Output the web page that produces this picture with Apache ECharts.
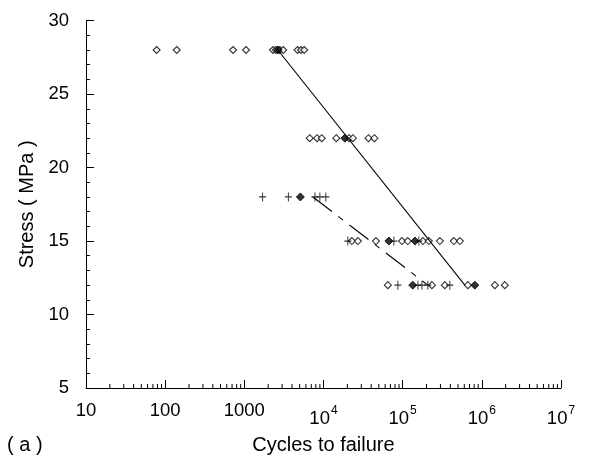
<!DOCTYPE html>
<html>
<head>
<meta charset="utf-8">
<script src="https://cdn.jsdelivr.net/npm/echarts@6/dist/echarts.min.js"></script>
<style>html,body{margin:0;padding:0;background:#fff;}#c{width:590px;height:465px;}</style>
</head>
<body>
<div id="c"></div>
<script>
// Open diamonds: [cycles, stress]
const openDiamonds = [
  [78,28],[140,28],[720,28],[1050,28],[2300,28],[2500,28],[2800,28],[3100,28],[4700,28],[5200,28],[5700,28],
  [6700,22],[8300,22],[9500,22],[14500,22],[21000,22],[23500,22],[37000,22],[44000,22],
  [22800,15],[27200,15],[46000,15],[98000,15],[116000,15],[180000,15],[214000,15],[295000,15],[443000,15],[528000,15],
  [65000,12],[234000,12],[341000,12],[666000,12],[1460000,12],[1950000,12]
];
// Plus markers: [cycles, stress]
const plusMarks = [
  [1700,18],[3600,18],[7800,18],[9000,18],[10700,18],
  [20300,15],[77400,15],[160000,15],
  [87000,12],[156000,12],[175000,12],[208000,12],[394000,12]
];
// Filled (mean) markers
const meanMarks = [[2650,28],[18600,22],[143000,15],[816000,12],[5100,18],[67000,15],[134000,12]];
// Fitted lines
const solidFit = [[2650,28],[610000,12]];
const dashedFit = [[7350,18],[208000,12]];
// Axis ticks
const decades = [10,100,1000,1e4,1e5,1e6];
const minorMultipliers = [2,3,4,5,6,7,8,9];
const minorTickValues = [];
decades.forEach(d => minorMultipliers.forEach(m => minorTickValues.push([d*m, 5])));

const FONT = "'Liberation Sans', Arial, sans-serif";
const chart = echarts.init(document.getElementById('c'), null, {renderer:'canvas'});
chart.setOption({
  animation:false,
  backgroundColor:'#fff',
  grid:{left:86, right:29, top:20.6, bottom:77},
  xAxis:{
    type:'log', logBase:10, min:10, max:1e7, interval:1,
    name:'Cycles to failure', nameLocation:'middle', nameGap:47,
    nameTextStyle:{fontFamily:FONT, fontSize:20, color:'#000'},
    axisLine:{show:true, lineStyle:{color:'#000', width:1}},
    axisTick:{show:true, inside:true, length:8, lineStyle:{color:'#000', width:1}},
    splitLine:{show:false},
    axisLabel:{
      margin:13, color:'#000', fontFamily:FONT, fontSize:18.5,
      formatter:function(v){
        const e = Math.round(Math.log10(v));
        if (e <= 3) return String(Math.round(v));
        return '{b|10}{s|' + e + '}';
      },
      rich:{
        b:{fontFamily:FONT, fontSize:18.5, color:'#000', padding:[8,0,0,0]},
        s:{fontFamily:FONT, fontSize:12, color:'#000', padding:[0,0,7,1]}
      }
    }
  },
  yAxis:{
    type:'value', min:5, max:30, interval:5,
    name:'Stress ( MPa )', nameLocation:'middle', nameGap:48,
    nameTextStyle:{fontFamily:FONT, fontSize:20, color:'#000'},
    axisLine:{show:true, lineStyle:{color:'#000', width:1}},
    axisTick:{show:true, inside:true, length:8, lineStyle:{color:'#000', width:1}},
    minorTick:{show:true, splitNumber:5, length:4, lineStyle:{color:'#000', width:1}},
    splitLine:{show:false},
    axisLabel:{margin:17, color:'#000', fontFamily:FONT, fontSize:18.5}
  },
  graphic:[{type:'text', left:7, top:435, style:{text:'( a )', font:'20px ' + FONT, fill:'#000'}}],
  series:[
    {type:'custom', silent:true, clip:false, data:minorTickValues, encode:{x:0,y:1},
     renderItem:function(params, api){
       const p = api.coord([api.value(0), api.value(1)]);
       return {type:'line', shape:{x1:p[0], y1:p[1], x2:p[0], y2:p[1]-4}, style:{stroke:'#000', lineWidth:1}};
     }},
    {type:'line', data:solidFit, symbol:'none', lineStyle:{color:'#000', width:1.1}},
    {type:'line', data:dashedFit, symbol:'none', lineStyle:{color:'#000', width:1.1, type:[24,8,6,8]}},
    {type:'scatter', data:openDiamonds, symbol:'diamond', symbolSize:7,
     itemStyle:{color:'#fff', borderColor:'#000', borderWidth:1.1}},
    {type:'scatter', data:plusMarks, symbol:'path://M5,0 L5,10 M0,5 L10,5', symbolSize:[7,9],
     itemStyle:{color:'none', borderColor:'#000', borderWidth:1.1}},
    {type:'scatter', data:meanMarks, symbol:'diamond', symbolSize:8,
     itemStyle:{color:'#000', borderColor:'#000', borderWidth:1}}
  ]
});
</script>
</body>
</html>
